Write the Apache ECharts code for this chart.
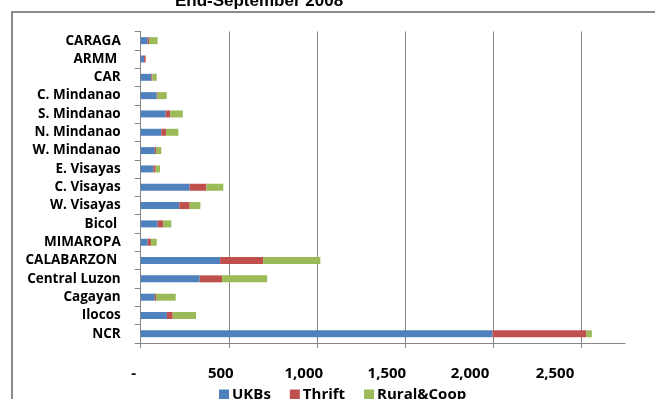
<!DOCTYPE html>
<html>
<head>
<meta charset="utf-8">
<script src="https://cdn.jsdelivr.net/npm/echarts@6/dist/echarts.min.js"></script>
<style>
  html, body { margin: 0; padding: 0; background: #fff; }
  #chart { width: 655px; height: 399px; }
</style>
</head>
<body>
<div id="chart"></div>
<script>
// Regions, listed bottom to top as they appear on the category axis
const regions = ['NCR', 'Ilocos', 'Cagayan', 'Central Luzon', 'CALABARZON ', 'MIMAROPA', 'Bicol ',
  'W. Visayas', 'C. Visayas', 'E. Visayas', 'W. Mindanao', 'N. Mindanao', 'S. Mindanao',
  'C. Mindanao', 'CAR', 'ARMM ', 'CARAGA'];

// Number of banking offices by bank type, end-September 2008
const ukbs      = [1998, 149, 80, 335, 451, 40, 96, 219, 278, 72, 80, 117, 142, 91, 60, 19, 40];
const thrift    = [532, 33, 7, 127, 244, 18, 32, 59, 95, 13, 7, 27, 26, 5, 6, 9, 7];
const ruralCoop = [32, 132, 112, 256, 325, 33, 46, 61, 96, 25, 30, 70, 71, 52, 25, 1, 49];

const seriesNames = ['UKBs', 'Thrift', 'Rural&Coop'];
const seriesColors = ['#4F81BD', '#C0504D', '#9BBB59'];
const xTicks = [0, 500, 1000, 1500, 2000, 2500];
const xMax = 2750;

const fmtNum = v => v === 0 ? '-' : v.toLocaleString('en-US');
// accounting-style labels sit a little left of their tick
const labelShift = { 0: 7, 500: 8, 1000: 13, 1500: 18, 2000: 23, 2500: 26 };
const rich = {};
xTicks.forEach(v => {
  rich['t' + v] = { fontFamily: 'Open Sans', fontWeight: 'bold', fontSize: 15, color: '#000',
    padding: [0, labelShift[v] * 2, 0, 0] };
});

// plot geometry
const plotLeft = 140.7, plotRight = 30, plotTop = 31.5, plotBottom = 56;
const plotWidth = 655 - plotLeft - plotRight;
// second grid spans only up to the last labelled tick, for the tick marks
const tickGridRight = 655 - plotLeft - plotWidth * xTicks[xTicks.length - 1] / xMax;

const chart = echarts.init(document.getElementById('chart'), null, { renderer: 'canvas' });
const data = [ukbs, thrift, ruralCoop];

chart.setOption({
  animation: false,
  backgroundColor: '#fff',
  graphic: [
    { type: 'rect', shape: { x: 12, y: 12, width: 700, height: 450 },
      style: { fill: 'none', stroke: '#8a8a8a', lineWidth: 2 }, silent: true },
    { type: 'text', x: 259, y: 10,
      style: { text: 'End-September 2008', fontFamily: 'Liberation Sans', fontWeight: 'bold',
        fontSize: 17, fill: '#000', align: 'center', verticalAlign: 'bottom' } }
  ],
  legend: {
    left: 214, top: 382, itemWidth: 10, itemHeight: 10, itemGap: 19, icon: 'rect',
    textStyle: { fontFamily: 'Open Sans', fontWeight: 'bold', fontSize: 15, color: '#000', padding: [0, 0, 0, -2] },
    data: seriesNames
  },
  grid: [
    { left: plotLeft, right: plotRight, top: plotTop, bottom: plotBottom, containLabel: false, outerBoundsMode: 'none' },
    { left: plotLeft, right: tickGridRight, top: plotTop, bottom: plotBottom, containLabel: false, outerBoundsMode: 'none' }
  ],
  xAxis: [{
    type: 'value', min: 0, max: xMax, interval: 500, gridIndex: 0,
    axisLine: { show: true, lineStyle: { color: '#868686', width: 1 } },
    axisTick: { show: false },
    splitLine: { show: true, showMaxLine: false, lineStyle: { color: '#868686', width: 1 } },
    axisLabel: {
      margin: 23, showMaxLabel: false,
      formatter: v => (labelShift[v] !== undefined ? '{t' + v + '|' + fmtNum(v) + '}' : ''),
      rich: rich
    }
  }, {
    type: 'value', min: 0, max: xTicks[xTicks.length - 1], interval: 500, gridIndex: 1,
    axisLine: { show: false },
    axisTick: { show: true, length: 5, lineStyle: { color: '#868686' } },
    axisLabel: { show: false },
    splitLine: { show: false }
  }],
  yAxis: [{
    type: 'category', data: regions, gridIndex: 0,
    axisLine: { show: true, lineStyle: { color: '#868686', width: 1 } },
    axisTick: { show: true, length: 6, lineStyle: { color: '#868686' } },
    axisLabel: { margin: 20, fontFamily: 'Open Sans', fontWeight: 'bold', fontSize: 13.5, color: '#000' },
    splitLine: { show: false }
  }, {
    type: 'category', data: regions, gridIndex: 1, show: false
  }],
  series: seriesNames.map((name, i) => ({
    name: name, type: 'bar', stack: 'offices', barWidth: 7,
    xAxisIndex: 0, yAxisIndex: 0,
    itemStyle: { color: seriesColors[i] },
    data: data[i]
  })).concat([{
    type: 'bar', xAxisIndex: 1, yAxisIndex: 1, data: [], silent: true
  }])
});
</script>
</body>
</html>
